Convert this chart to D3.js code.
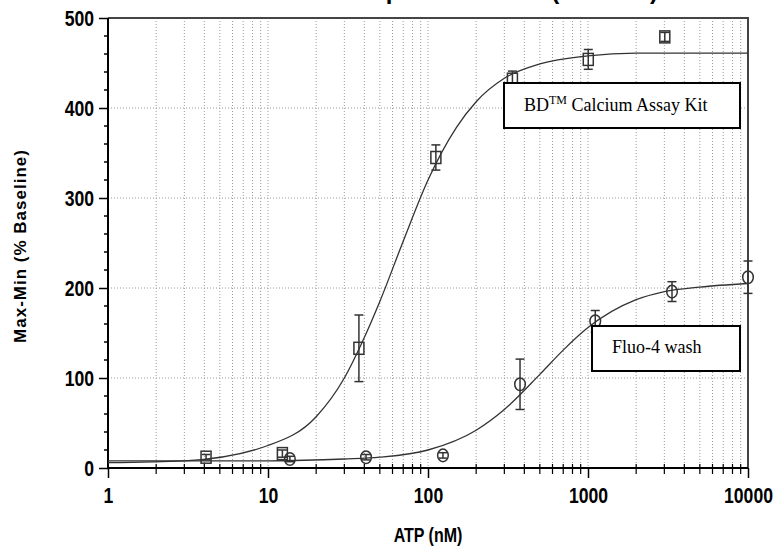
<!DOCTYPE html>
<html>
<head>
<meta charset="utf-8">
<script src="https://cdn.jsdelivr.net/npm/d3@7"></script>
<style>
  body { margin: 0; background: #fff; }
  .tick text { font-family: "Liberation Sans", Arial, sans-serif; font-weight: bold; font-size: 22px; }
</style>
</head>
<body>
<div id="chartDiv"></div>
<script>
// BD Calcium Assay Kit (squares)
const bdDose = [4.1, 12.3, 37, 112, 337, 1004, 3020];
const bdMean = [12, 16, 133, 345, 432, 454, 479];
const bdErr = [3, 4, 37, 14, 9, 11, 5];

// Fluo-4 wash (circles)
const fluoDose = [13.7, 41, 124, 376, 1110, 3350, 10000];
const fluoMean = [10, 12, 14, 93, 163, 196, 212];
const fluoErr = [3, 3, 3, 28, 12, 11, 18];

// fitted curves
const bdFitDose = [1, 3, 10, 20, 30, 40, 50, 70, 100, 150, 200, 300, 500, 1000, 2000, 10000];
const bdFitValue = [6, 8, 25, 57, 100, 145, 185, 252, 320, 378, 407, 433, 449, 458, 461, 461];
const fluoFitDose = [1, 10, 30, 50, 100, 200, 300, 500, 700, 1000, 2000, 3000, 5000, 10000];
const fluoFitValue = [8, 8, 10, 12, 20, 42, 65, 104, 131, 156, 187, 196, 201, 205];

const xTicks = [1, 10, 100, 1000, 10000];
const yTicks = [0, 100, 200, 300, 400, 500];

const titleText = "ATP Dose Response Curves (HEK293)";
const xLabel = "ATP (nM)";
const yLabel = "Max-Min (% Baseline)";

var displayChart = function(){
	var canvasW = 775;
	var canvasH = 548;
	const narrow = 0.8;
	const svg = d3.select('#chartDiv')
		.append('svg')
		.attr('width', canvasW)
		.attr('height', canvasH);

	const margin = {top: 18, right: 27, bottom: 80, left: 108};
	const w = canvasW - margin.left - margin.right;
	const h = canvasH - margin.top - margin.bottom;

	const graph = svg.append('g')
		.attr('transform', `translate(${margin.left},${margin.top})`);

	const x = d3.scaleLog().domain([1, 10000]).range([0, w]);
	const y = d3.scaleLinear().domain([0, 500]).range([h, 0]);

	// minor log values 2..9 per decade
	const minorX = [];
	for (let d = 1; d < 10000; d *= 10) {
		for (let k = 2; k <= 9; k++) minorX.push(d * k);
	}
	const gridX = minorX.concat(xTicks.slice(1, -1));
	const minorY = d3.range(20, 500, 20).filter(v => v % 100 !== 0);

	// grid
	graph.append('g').selectAll('line')
		.data(gridX)
		.enter().append('line')
		.attr('x1', d => x(d)).attr('x2', d => x(d))
		.attr('y1', 0).attr('y2', h)
		.attr('stroke', '#9a9a9a')
		.attr('stroke-dasharray', '1,2');
	graph.append('g').selectAll('line')
		.data(yTicks.slice(1, -1))
		.enter().append('line')
		.attr('x1', 0).attr('x2', w)
		.attr('y1', d => y(d)).attr('y2', d => y(d))
		.attr('stroke', '#9a9a9a')
		.attr('stroke-dasharray', '1,2');

	// frame top / right
	graph.append('path')
		.attr('d', `M0,0H${w}V${h}`)
		.attr('fill', 'none')
		.attr('stroke', '#444')
		.attr('stroke-width', 2);

	// axes
	const xAxis = d3.axisBottom(x).tickValues(xTicks).tickFormat(d3.format('d')).tickSize(10).tickPadding(9);
	const yAxis = d3.axisLeft(y).tickValues(yTicks).tickSize(9).tickPadding(5);

	const xAxisGroup = graph.append('g')
		.attr('transform', `translate(0,${h})`)
		.call(xAxis);
	const yAxisGroup = graph.append('g').call(yAxis);

	[xAxisGroup, yAxisGroup].forEach(g => {
		g.select('.domain').attr('stroke', '#000').attr('stroke-width', 2);
		g.selectAll('.tick line').attr('stroke', '#000').attr('stroke-width', 1.5);
		g.selectAll('.tick text').attr('fill', '#000');
	});
	xAxisGroup.select('.domain').attr('d', `M0,0H${w}`);
	yAxisGroup.select('.domain').attr('d', `M0,0V${h}`);
	// condensed look for the tick labels
	xAxisGroup.selectAll('.tick text')
		.attr('transform', `scale(${narrow},1)`);
	yAxisGroup.selectAll('.tick text')
		.attr('x', -14 / narrow)
		.attr('dy', '0.36em')
		.attr('transform', `scale(${narrow},1)`);

	xAxisGroup.selectAll('line.minor')
		.data(minorX)
		.enter().append('line')
		.attr('class', 'minor')
		.attr('x1', d => x(d)).attr('x2', d => x(d))
		.attr('y1', -4).attr('y2', 6)
		.attr('stroke', '#000').attr('stroke-width', 1.2);
	yAxisGroup.selectAll('line.minor')
		.data(minorY)
		.enter().append('line')
		.attr('class', 'minor')
		.attr('y1', d => y(d)).attr('y2', d => y(d))
		.attr('x1', -4).attr('x2', 1)
		.attr('stroke', '#000').attr('stroke-width', 1.5);

	// fitted curves
	const line = d3.line()
		.x(d => x(d[0]))
		.y(d => y(d[1]))
		.curve(d3.curveMonotoneX);
	graph.append('path')
		.datum(d3.zip(bdFitDose, bdFitValue))
		.attr('d', line)
		.attr('fill', 'none')
		.attr('stroke', '#333')
		.attr('stroke-width', 1.3);
	graph.append('path')
		.datum(d3.zip(fluoFitDose, fluoFitValue))
		.attr('d', line)
		.attr('fill', 'none')
		.attr('stroke', '#333')
		.attr('stroke-width', 1.3);

	// error bars + markers
	function drawSeries(dose, mean, err, shape){
		const data = d3.zip(dose, mean, err);
		const g = graph.append('g')
			.attr('stroke', '#333')
			.attr('stroke-width', 1.5)
			.attr('fill', 'none');
		const bars = g.selectAll('g.bar')
			.data(data)
			.enter().append('g');
		bars.append('line')
			.attr('x1', d => x(d[0])).attr('x2', d => x(d[0]))
			.attr('y1', d => y(d[1] + d[2])).attr('y2', d => y(d[1] - d[2]));
		bars.append('line')
			.attr('x1', d => x(d[0]) - 4.5).attr('x2', d => x(d[0]) + 4.5)
			.attr('y1', d => y(d[1] + d[2])).attr('y2', d => y(d[1] + d[2]));
		bars.append('line')
			.attr('x1', d => x(d[0]) - 4.5).attr('x2', d => x(d[0]) + 4.5)
			.attr('y1', d => y(d[1] - d[2])).attr('y2', d => y(d[1] - d[2]));
		if (shape === 'square') {
			bars.append('rect')
				.attr('x', d => x(d[0]) - 5)
				.attr('y', d => y(d[1]) - 6)
				.attr('width', 10)
				.attr('height', 12);
		} else {
			bars.append('ellipse')
				.attr('cx', d => x(d[0]))
				.attr('cy', d => y(d[1]))
				.attr('rx', 5.3)
				.attr('ry', 6.3);
		}
	}
	drawSeries(bdDose, bdMean, bdErr, 'square');
	drawSeries(fluoDose, fluoMean, fluoErr, 'circle');

	// label boxes
	const bdBox = svg.append('g').attr('transform', 'translate(504,83)');
	bdBox.append('rect')
		.attr('width', 236).attr('height', 45)
		.attr('fill', '#fff').attr('stroke', '#000').attr('stroke-width', 2);
	const bdText = bdBox.append('text')
		.attr('x', 20).attr('y', 28)
		.attr('font-family', '"Liberation Serif", "Times New Roman", serif')
		.attr('font-size', 18);
	bdText.append('tspan').text('BD');
	bdText.append('tspan').attr('font-size', 12).attr('dy', -7).text('TM');
	bdText.append('tspan').attr('dy', 7).text(' Calcium Assay Kit');

	const fluoBox = svg.append('g').attr('transform', 'translate(592,326)');
	fluoBox.append('rect')
		.attr('width', 148).attr('height', 45)
		.attr('fill', '#fff').attr('stroke', '#000').attr('stroke-width', 2);
	fluoBox.append('text')
		.attr('x', 20).attr('y', 27)
		.attr('font-family', '"Liberation Serif", "Times New Roman", serif')
		.attr('font-size', 18)
		.text('Fluo-4 wash');

	// title, mostly above the visible area as in the reference
	svg.append('text')
		.attr('x', 224).attr('y', -1)
		.attr('font-family', '"Liberation Sans", Arial, sans-serif')
		.attr('font-weight', 'bold')
		.attr('font-size', 24)
		.text(titleText);

	svg.append('text')
		.attr('transform', `translate(${margin.left + w / 2},542) scale(${narrow},1)`)
		.attr('text-anchor', 'middle')
		.attr('font-family', '"Liberation Sans", Arial, sans-serif')
		.attr('font-weight', 'bold')
		.attr('font-size', 20)
		.text(xLabel);

	svg.append('text')
		.attr('transform', 'translate(26,246) rotate(-90)')
		.attr('text-anchor', 'middle')
		.attr('font-family', '"Liberation Sans", Arial, sans-serif')
		.attr('font-weight', 'bold')
		.attr('font-size', 17)
		.attr('letter-spacing', 1)
		.text(yLabel);
}

displayChart();
</script>
</body>
</html>
